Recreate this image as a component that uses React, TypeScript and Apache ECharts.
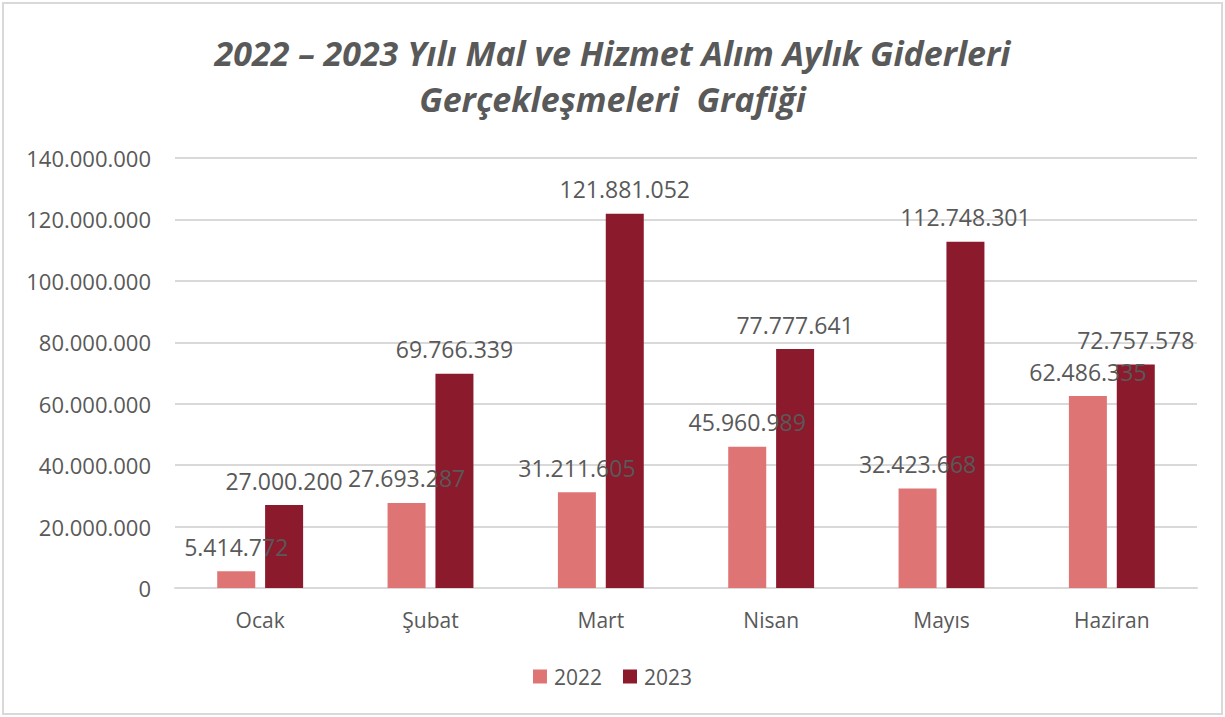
import React, { useEffect, useRef } from "react";
import * as echarts from "echarts";

const categories = ["Ocak", "Şubat", "Mart", "Nisan", "Mayıs", "Haziran"];
const values2022 = [5414772, 27693287, 31211605, 45960989, 32423668, 62486335];
const values2023 = [27000200, 69766339, 121881052, 77777641, 112748301, 72757578];
const seriesNames = ["2022", "2023"];
const titleText = "2022 – 2023 Yılı Mal ve Hizmet Alım Aylık Giderleri\nGerçekleşmeleri  Grafiği";

const fmt = (v: number) => String(Math.round(v)).replace(/\B(?=(\d{3})+(?!\d))/g, ".");

const FONT = "'Open Sans', sans-serif";
const TEXT = "#595959";

export default function App() {
  const ref = useRef<HTMLDivElement>(null);
  useEffect(() => {
    document.body.style.margin = "0";
    const chart = echarts.init(ref.current!, null, { renderer: "svg" });
    const label = {
      show: true,
      position: "top",
      distance: 13,
      color: TEXT,
      fontFamily: FONT,
      fontSize: 23,
      formatter: (p: any) => fmt(p.value),
    };
    chart.setOption({
      animation: false,
      backgroundColor: "#ffffff",
      title: {
        text: titleText,
        left: "center",
        top: 25,
        textStyle: {
          fontFamily: FONT,
          fontSize: 34,
          fontWeight: "bold",
          fontStyle: "italic",
          color: TEXT,
          lineHeight: 46,
        },
      },
      graphic: [
        {
          type: "rect",
          shape: { x: 3, y: 3, width: 1219, height: 711 },
          style: { fill: "none", stroke: "#d9d9d9", lineWidth: 2 },
          silent: true,
        },
      ],
      legend: {
        data: seriesNames,
        bottom: 25,
        left: "center",
        itemWidth: 14,
        itemHeight: 14,
        itemGap: 21,
        icon: "rect",
        textStyle: { fontFamily: FONT, fontSize: 21, color: TEXT, padding: [0, 0, 0, 2] },
      },
      grid: { left: 175, right: 28, top: 158, bottom: 129 },
      xAxis: {
        type: "category",
        data: categories,
        axisLine: { lineStyle: { color: "#d9d9d9", width: 2 } },
        axisTick: { show: false },
        axisLabel: { color: TEXT, fontFamily: FONT, fontSize: 21, margin: 21 },
      },
      yAxis: {
        type: "value",
        min: 0,
        max: 140000000,
        interval: 20000000,
        axisLine: { show: false },
        axisTick: { show: false },
        splitLine: { lineStyle: { color: "#d9d9d9", width: 2 } },
        axisLabel: {
          color: TEXT,
          fontFamily: FONT,
          fontSize: 22,
          margin: 24,
          formatter: (v: number) => fmt(v),
        },
      },
      series: [
        {
          name: seriesNames[0],
          type: "bar",
          data: values2022,
          barWidth: 38,
          barGap: "26%",
          itemStyle: { color: "#DE7574" },
          label,
        },
        {
          name: seriesNames[1],
          type: "bar",
          data: values2023,
          barWidth: 38,
          barGap: "26%",
          itemStyle: { color: "#8C1A2D" },
          label,
        },
      ],
    });
    return () => chart.dispose();
  }, []);
  return <div ref={ref} style={{ position: "absolute", left: 0, top: 0, width: 1225, height: 717 }} />;
}
